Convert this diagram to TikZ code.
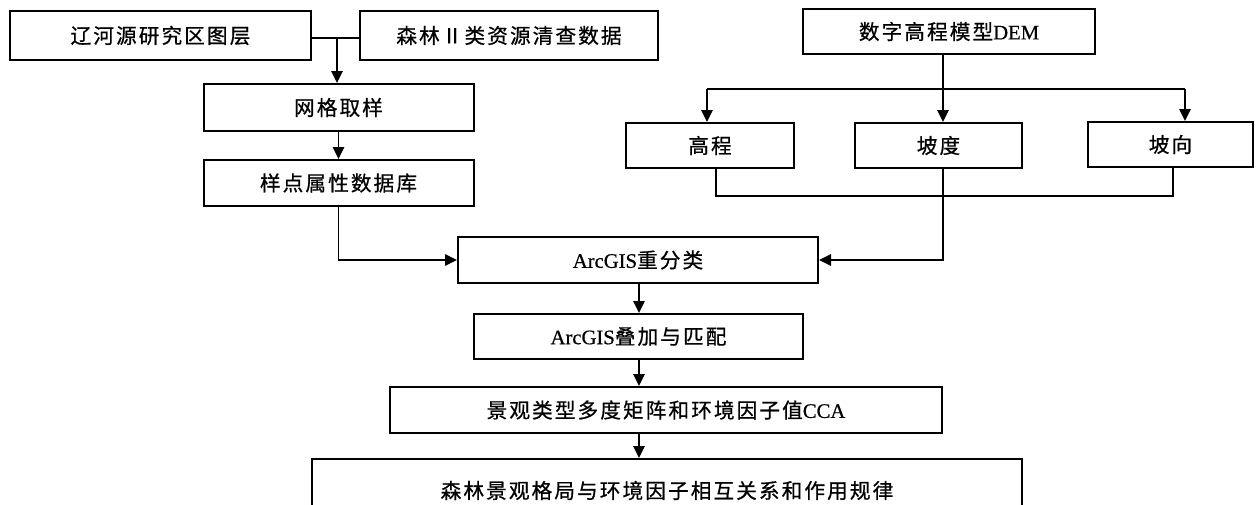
\documentclass[tikz,border=0pt]{standalone}
\usepackage{fontspec}
\setmainfont{Liberation Serif}[FakeBold=0.6]
\newfontfamily\cjk[LetterSpace=10,FakeBold=0.7]{Noto Sans CJK SC}
\usetikzlibrary{arrows.meta}
\begin{document}
\begin{tikzpicture}[x=0.75pt,y=-0.75pt,
  bx/.style 2 args={draw,line width=1.5pt,inner sep=0pt,minimum width=#1*0.75pt,minimum height=#2*0.75pt,
    font=\fontsize{15.5pt}{17pt}\selectfont,align=center},
  ln/.style={line width=1.4pt},
  arr/.style={line width=1.4pt,-{Triangle[length=9pt,width=8.5pt]}}]
\useasboundingbox (0,0) rectangle (1258,504);
% left column
\node[bx={301}{49}] (A) at (160.5,35.5) {\cjk 辽河源研究区图层};
\node[bx={298}{49}] (B) at (509,35.5) {\cjk 森林Ⅱ类资源清查数据};
\node[bx={270}{47}] (C) at (338.5,107.5) {\cjk 网格取样};
\node[bx={270}{46}] (D) at (338.5,183) {\cjk 样点属性数据库};
% right column
\node[bx={292}{45}] (DEM) at (949,31.5) {{\cjk 数字高程模型}DEM};
\node[bx={168}{45}] (G1) at (710,145.5) {\cjk 高程};
\node[bx={167}{45}] (G2) at (938.5,145.5) {\cjk 坡度};
\node[bx={165}{45}] (G3) at (1170.5,144.5) {\cjk 坡向};
% center column
\node[bx={360}{46}] (R1) at (638,260) {ArcGIS{\cjk 重分类}};
\node[bx={329}{45}] (R2) at (638.5,336.5) {ArcGIS{\cjk 叠加与匹配}};
\node[bx={552}{46}] (R3) at (666,410) {{\cjk 景观类型多度矩阵和环境因子值}CCA};
\node[bx={710}{63}] (R4) at (667,490.5) {\cjk 森林景观格局与环境因子相互关系和作用规律};
% connectors, left
\coordinate (j1) at (337,38);
\draw[ln] (A.east |- j1) -- (B.west |- j1);
\draw[arr] (j1) -- (j1 |- C.north);
\draw[arr] (C.south) -- (D.north);
\draw[arr] (D.south) |- (R1.west);
% connectors, right
\coordinate (s) at (943,89);
\coordinate (sl) at (707,89);
\coordinate (sr) at (1185,89);
\draw[ln] (s |- DEM.south) -- (s);
\draw[arr] (s) -- (s |- G2.north);
\draw[ln] (sl) -- (sr);
\draw[arr] (sl) -- (sl |- G1.north);
\draw[arr] (sr) -- (sr |- G3.north);
\coordinate (bl) at (716,196);
\coordinate (br) at (1173,196);
\draw[ln] (bl |- G1.south) -- (bl) -- (br) -- (br |- G3.south);
\draw[arr] (s |- G2.south) |- (R1.east);
% connectors, center
\coordinate (m) at (639,0);
\draw[arr] (m |- R1.south) -- (m |- R2.north);
\draw[arr] (m |- R2.south) -- (m |- R3.north);
\draw[arr] (m |- R3.south) -- (m |- R4.north);
\end{tikzpicture}
\end{document}
